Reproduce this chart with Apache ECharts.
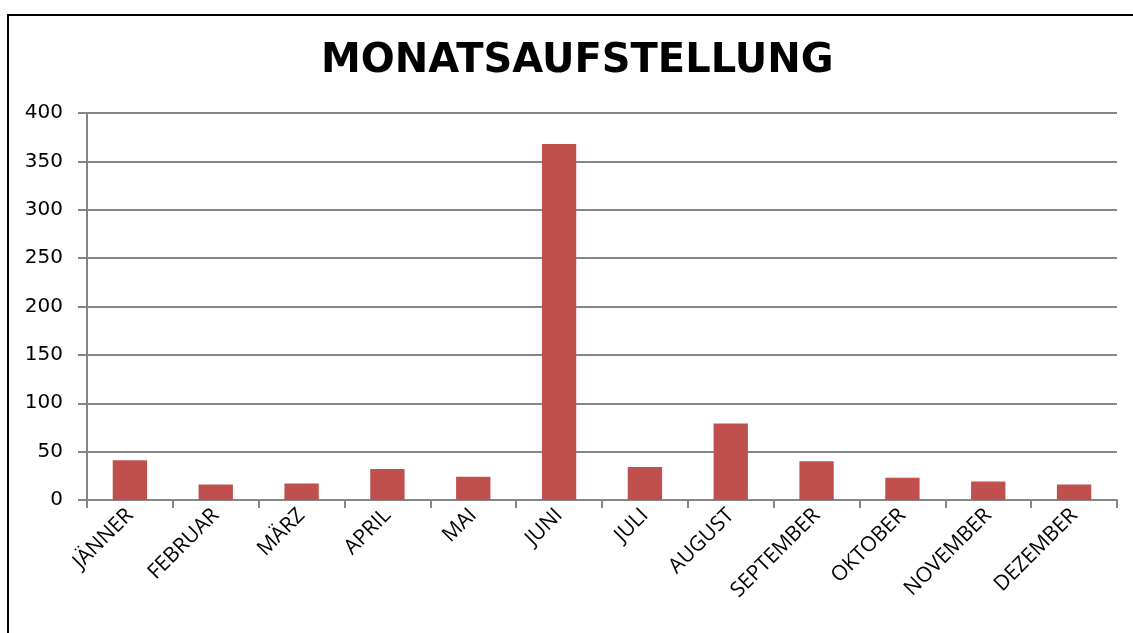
<!DOCTYPE html>
<html>
<head>
<meta charset="utf-8">
<script src="https://cdn.jsdelivr.net/npm/echarts@6/dist/echarts.min.js"></script>
<style>
  html, body { margin: 0; padding: 0; background: #fff; }
  #main { width: 1133px; height: 633px; }
</style>
</head>
<body>
<div id="main"></div>
<script>
// monthly values
var months = ['JÄNNER', 'FEBRUAR', 'MÄRZ', 'APRIL', 'MAI', 'JUNI', 'JULI', 'AUGUST', 'SEPTEMBER', 'OKTOBER', 'NOVEMBER', 'DEZEMBER'];
var values = [41, 16, 17, 32, 24, 368, 34, 79, 40, 23, 19, 16];
var yTicks = [0, 50, 100, 150, 200, 250, 300, 350, 400];

var chart = echarts.init(document.getElementById('main'));
var gridColor = '#868686';

var option = {
  animation: false,
  backgroundColor: '#fff',
  title: {
    text: 'MONATSAUFSTELLUNG',
    left: 316,
    top: 37,
    textStyle: { fontFamily: 'DejaVu Sans', fontWeight: 'bold', fontSize: 40, color: '#000' }
  },
  graphic: [{
    type: 'rect',
    shape: { x: 8, y: 15, width: 1300, height: 800 },
    style: { fill: 'none', stroke: '#000', lineWidth: 2 },
    silent: true
  }],
  grid: { left: 87, right: 16, top: 113, bottom: 133 },
  xAxis: {
    type: 'category',
    data: months,
    axisLine: { lineStyle: { color: gridColor, width: 2 } },
    axisTick: { show: true, length: 8, lineStyle: { color: gridColor, width: 2 } },
    axisLabel: {
      rotate: 45, margin: 12, interval: 0,
      fontFamily: 'Open Sans', fontSize: 21, color: '#000'
    }
  },
  yAxis: {
    type: 'value',
    min: yTicks[0],
    max: yTicks[yTicks.length - 1],
    interval: yTicks[1] - yTicks[0],
    axisLine: { show: true, lineStyle: { color: gridColor, width: 2 } },
    axisTick: { show: true, length: 9, lineStyle: { color: gridColor, width: 2 } },
    splitLine: { lineStyle: { color: gridColor, width: 2 } },
    axisLabel: { margin: 24, fontFamily: 'DejaVu Sans', fontSize: 20, color: '#000' }
  },
  series: [{
    type: 'bar',
    data: values,
    barWidth: '40%',
    itemStyle: { color: '#C0504D' }
  }]
};

chart.setOption(option);
</script>
</body>
</html>
